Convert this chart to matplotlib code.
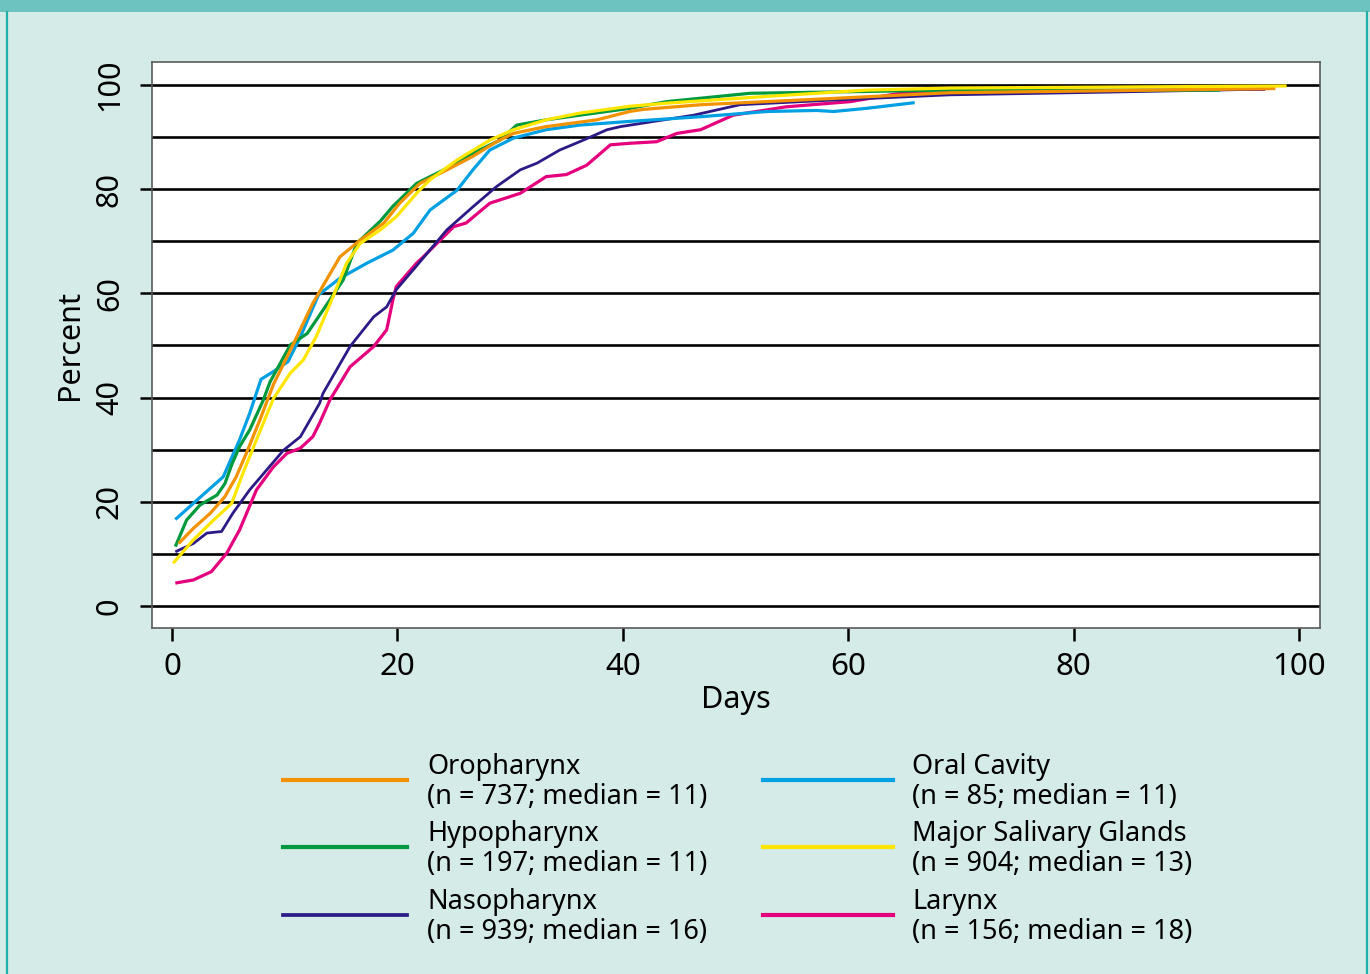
#!/usr/bin/env python3
"""Cumulative percent of patients by days, per head and neck cancer site."""

import matplotlib
matplotlib.use('Agg')
import matplotlib.pyplot as plt
from matplotlib.lines import Line2D
from matplotlib.patches import Rectangle

plt.rcParams['font.family'] = ['Noto Sans', 'DejaVu Sans']

BG_COLOR = "#d5ebe8"
BAND_COLOR = "#6cc3bf"
EDGE_COLOR = "#1fb0a9"
SPINE_COLOR = "#5a5a5a"

# Curves: days, percent
oro_days = [0.6, 1.9, 3.4, 4.7, 5.7, 6.6, 7.8, 9.0, 10.8, 12.5, 14.9, 16.7, 18.8,
            20.2, 22.0, 24.4, 26.7, 28.8, 30.3, 33.2, 37.7, 40.6, 41.8, 46.9,
            55.7, 69.0, 97.9]
oro_pct = [12.0, 14.9, 17.8, 21.0, 24.8, 29.3, 35.7, 42.5, 50.4, 58.1, 67.0, 70.2,
           73.5, 77.3, 81.1, 83.7, 86.3, 89.1, 90.7, 92.0, 93.3, 94.9, 95.3, 96.2,
           97.1, 98.5, 99.3]

hypo_days = [0.3, 1.3, 2.5, 4.0, 4.7, 5.3, 6.0, 6.9, 8.1, 8.7, 10.5, 12.0, 14.0,
             15.2, 16.4, 18.5, 19.6, 21.7, 22.9, 24.4, 26.7, 29.1, 30.6, 33.2,
             36.2, 40.6, 43.9, 51.3, 69.0, 93.0]
hypo_pct = [11.4, 16.5, 19.4, 21.3, 23.5, 27.1, 30.6, 33.8, 39.5, 43.0, 50.1, 52.3,
            58.7, 62.6, 69.6, 73.9, 76.7, 81.1, 82.4, 84.0, 86.9, 89.4, 92.3, 93.3,
            94.2, 95.5, 96.8, 98.4, 99.0, 99.0]

naso_days = [0.3, 1.9, 3.1, 4.4, 5.4, 6.9, 8.4, 9.9, 11.4, 13.1, 13.4, 15.8, 17.9,
             19.05, 19.9, 21.4, 24.4, 26.7, 28.8, 30.9, 32.4, 34.4, 36.5, 38.6,
             39.8, 46.3, 50.4, 58.7, 69.0, 82.6, 97.0]
naso_pct = [10.4, 12.0, 14.0, 14.3, 17.8, 22.3, 26.1, 29.9, 32.5, 38.9, 40.8, 49.8,
            55.5, 57.4, 60.7, 64.5, 72.2, 76.6, 80.5, 83.7, 85.0, 87.5, 89.4, 91.4,
            92.0, 94.2, 96.2, 97.1, 98.1, 98.6, 99.2]

oral_days = [0.3, 1.9, 4.55, 6.0, 6.9, 7.9, 9.0, 10.3, 11.4, 13.0, 14.9, 17.3,
             19.6, 21.4, 22.9, 25.3, 26.7, 28.2, 30.3, 33.2, 36.2, 40.6, 46.9,
             52.8, 57.2, 58.7, 61.6, 65.9]
oral_pct = [16.6, 19.7, 24.8, 31.9, 37.0, 43.5, 45.0, 46.9, 51.7, 59.7, 62.9, 65.8,
            68.3, 71.5, 76.0, 79.8, 83.7, 87.5, 89.8, 91.4, 92.3, 93.0, 93.9, 94.9,
            95.1, 94.9, 95.5, 96.6]

saliv_days = [0.1, 1.9, 3.7, 5.3, 6.3, 7.5, 9.0, 10.5, 11.65, 12.8, 14.3, 15.5,
              16.7, 18.5, 19.9, 21.7, 22.9, 25.3, 28.2, 30.3, 33.2, 36.2, 40.6,
              43.9, 52.8, 61.6, 69.0, 98.9]
saliv_pct = [8.2, 12.7, 16.5, 19.7, 25.5, 31.9, 39.8, 44.7, 47.2, 51.7, 59.4, 65.8,
             69.6, 72.2, 74.7, 79.2, 81.8, 85.6, 89.4, 91.4, 93.3, 94.6, 95.9, 96.5,
             97.8, 99.0, 99.4, 99.8]

lar_days = [0.3, 1.9, 3.5, 4.85, 6.0, 7.5, 9.0, 10.2, 11.4, 12.5, 13.1, 14.0, 15.8,
            17.9, 19.05, 19.6, 19.9, 21.7, 22.3, 25.0, 26.1, 28.2, 30.9, 33.2,
            35.0, 36.8, 38.9, 40.6, 43.0, 44.8, 46.9, 49.8, 54.5, 60.2, 64.6, 69.0,
            97.0]
lar_pct = [4.4, 5.0, 6.6, 10.1, 14.6, 22.3, 26.7, 29.3, 30.3, 32.5, 35.1, 39.5,
           45.9, 49.8, 53.0, 58.7, 61.3, 65.8, 67.0, 72.8, 73.5, 77.3, 79.2, 82.4,
           82.8, 84.6, 88.5, 88.8, 89.1, 90.7, 91.4, 94.2, 95.8, 96.8, 98.4, 98.7,
           99.2]

site_names = ["Oropharynx", "Hypopharynx", "Nasopharynx",
              "Oral Cavity", "Major Salivary Glands", "Larynx"]
site_n = [737, 197, 939, 85, 904, 156]
site_median = [11, 11, 16, 11, 13, 18]
site_colors = ["#f39200", "#009a3e", "#2e1a87", "#00a0e3", "#ffe600", "#e5007d"]
site_widths = [2.3, 2.3, 2.0, 2.3, 2.3, 2.3]
site_days = [oro_days, hypo_days, naso_days, oral_days, saliv_days, lar_days]
site_pct = [oro_pct, hypo_pct, naso_pct, oral_pct, saliv_pct, lar_pct]

x_ticks = [0, 20, 40, 60, 80, 100]
y_ticks = [0, 20, 40, 60, 80, 100]
y_grid = [0, 10, 20, 30, 40, 50, 60, 70, 80, 90, 100]

W, H = 1370, 974
fig = plt.figure(figsize=(W / 100, H / 100), dpi=100, facecolor=BG_COLOR)

# top band and teal side rules
fig.add_artist(Rectangle((0, 1 - 12 / H), 1, 12 / H, transform=fig.transFigure,
                         facecolor=BAND_COLOR, edgecolor='none'))
for xp in (6.5, 1366.5):
    fig.add_artist(Line2D([xp / W, xp / W], [0, 1 - 12 / H], transform=fig.transFigure,
                          color=EDGE_COLOR, linewidth=1.6))

ax = fig.add_axes([152 / W, 1 - 628 / H, (1320 - 152) / W, (628 - 62) / H])
ax.set_facecolor("white")

for g in y_grid:
    ax.axhline(g, color="black", linewidth=1.9, zorder=1)

# draw order: back to front
for i in [5, 2, 3, 1, 0, 4]:
    ax.plot(site_days[i], site_pct[i], color=site_colors[i], linewidth=site_widths[i],
            solid_joinstyle='round', solid_capstyle='butt', zorder=3)

ax.set_xlim(-1.77, 101.86)
ax.set_ylim(-4.22, 104.4)
ax.set_xticks(x_ticks)
ax.set_yticks(y_ticks)
ax.set_yticklabels([str(v) for v in y_ticks], rotation=90, va='center')
ax.tick_params(axis='x', length=9.5, width=1.8, color="black", labelsize=22.5, pad=8)
ax.tick_params(axis='y', length=8.5, width=1.8, color="black", labelsize=22, pad=11)
for spine in ax.spines.values():
    spine.set_color(SPINE_COLOR)
    spine.set_linewidth(1.2)

ax.set_xlabel("Days", fontsize=22, labelpad=2)
ax.set_ylabel("Percent", fontsize=22, labelpad=7)

# legend, two columns of three
col_line_x = [(283, 407), (763, 893)]
col_text_x = [427, 912]
row_y = [780, 847, 915]
for i, name in enumerate(site_names):
    col, row = divmod(i, 3)
    x0, x1 = col_line_x[col]
    yf = 1 - row_y[row] / H
    fig.add_artist(Line2D([x0 / W, x1 / W], [yf, yf], transform=fig.transFigure,
                          color=site_colors[i], linewidth=site_widths[i] + 0.7))
    label = f"{name}\n(n = {site_n[i]}; median = {site_median[i]})"
    fig.text(col_text_x[col] / W, 1 - (row_y[row] + 2) / H, label, fontsize=19.5,
             ha='left', va='center', linespacing=1.12)

fig.savefig("out.png", dpi=100, facecolor=BG_COLOR)
